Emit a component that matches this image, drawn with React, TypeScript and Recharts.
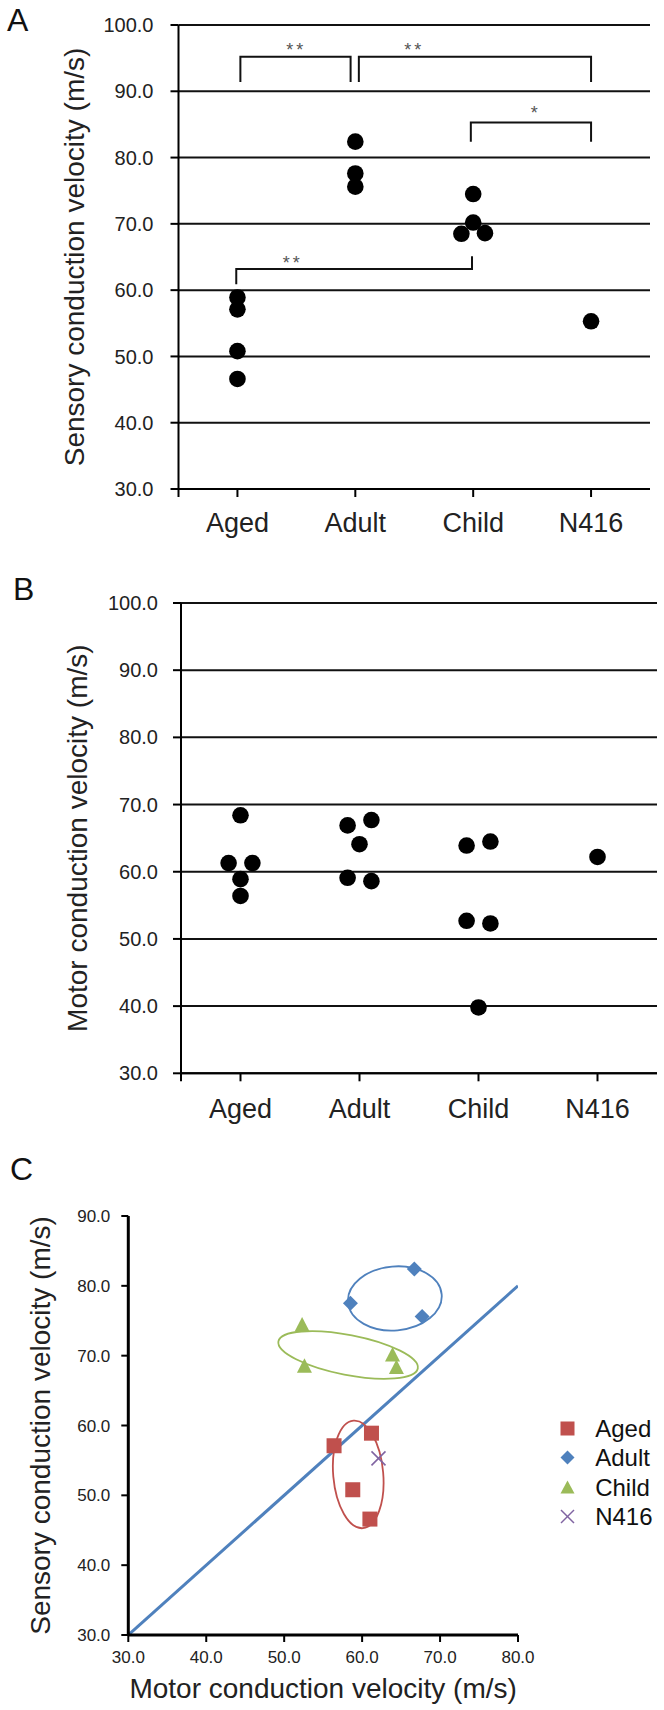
import { ComposedChart, Scatter, Line, XAxis, YAxis, CartesianGrid } from "recharts";

const FONT = '"Liberation Sans", Arial, Helvetica, sans-serif';

// groups on the x axis of panels A and B
const groups = ["Aged", "Adult", "Child", "N416"];
const groupTicks = [-0.5, 0, 1, 2, 3];
const velocityTicks = [30, 40, 50, 60, 70, 80, 90, 100];

// A - sensory conduction velocity (m/s)
const sensoryAged = [58.9, 57.1, 50.8, 46.6];
const sensoryAdult = [82.4, 77.6, 75.6];
const sensoryChild = [74.5, 70.2, 68.5, 68.6];
const sensoryN416 = [55.3];
const sensoryOffsets = [[0, 0, 0, 0], [0, 0, 0], [0, 0, -0.1, 0.1], [0]];

// A - significance brackets [x, y] and stars
const bracketAgedAdult = [[0.025, 91.4], [0.025, 95.2], [0.96, 95.2], [0.96, 91.4]];
const bracketAdultN416 = [[1.03, 91.4], [1.03, 95.2], [3.0, 95.2], [3.0, 91.4]];
const bracketChildN416 = [[1.98, 82.4], [1.98, 85.3], [3.0, 85.3], [3.0, 82.4]];
const bracketAgedChild = [[-0.01, 60.9], [-0.01, 63.2], [1.99, 63.2], [1.99, 65.1]];
const starText = ["**", "**", "*", "**"];
const starX = [0.5, 1.5, 2.53, 0.47];
const starY = [96.8, 96.8, 87.3, 64.7];

// B - motor conduction velocity (m/s)
const motorAged = [68.4, 61.3, 61.3, 58.9, 56.4];
const motorAdult = [66.9, 67.7, 64.1, 59.1, 58.6];
const motorChild = [63.9, 64.5, 52.7, 52.3, 39.8];
const motorN416 = [62.2];
const motorOffsets = [[0, -0.1, 0.1, 0, 0], [-0.1, 0.1, 0, -0.1, 0.1], [-0.1, 0.1, -0.1, 0.1, 0], [0]];

// C - motor (x) vs sensory (y)
const agedMotor = [56.4, 61.2, 58.8, 61.0];
const agedSensory = [57.1, 58.9, 50.8, 46.6];
const adultMotor = [66.7, 58.5, 67.7];
const adultSensory = [82.4, 77.5, 75.6];
const childMotor = [52.3, 52.6, 63.9, 64.4];
const childSensory = [74.4, 68.5, 70.1, 68.3];
const n416Motor = [62.1];
const n416Sensory = [55.3];
const identityX = [30, 80];
const identityY = [30, 80];
const motorTicks = [30, 40, 50, 60, 70, 80];
const sensoryTicks = [30, 40, 50, 60, 70, 80, 90];

// C - hand-drawn group rings (centre in data units)
const agedRing = [{ x: 59.5, y: 53.0 }];
const adultRing = [{ x: 64.2, y: 78.2 }];
const childRing = [{ x: 58.2, y: 70.1 }];

const colors = { Aged: "#C0504D", Adult: "#4F81BD", Child: "#9BBB59", N416: "#8064A2" };

type Pt = { x: number; y: number; t?: string };

const spread = (vals: number[][], offs: number[][]): Pt[] =>
  vals.flatMap((arr, g) => arr.map((v, i) => ({ x: g + offs[g][i], y: v })));
const pairs = (xs: number[], ys: number[]): Pt[] => xs.map((x, i) => ({ x, y: ys[i] }));
const toPts = (arr: number[][]): Pt[] => arr.map(([x, y]) => ({ x, y }));

const sensoryPoints = spread([sensoryAged, sensoryAdult, sensoryChild, sensoryN416], sensoryOffsets);
const motorPoints = spread([motorAged, motorAdult, motorChild, motorN416], motorOffsets);
const starPoints = starText.map((t, i) => ({ x: starX[i], y: starY[i], t }));

const catTick = (v: number) => (v < 0 ? "" : groups[v]);
const fmt1 = (v: number) => v.toFixed(1);

const Dot = (p: any) => <circle cx={p.cx} cy={p.cy} r={8.3} fill="#000" />;
const StarMark = (p: any) => (
  <text x={p.cx} y={p.cy + 10} textAnchor="middle" fontSize={18} letterSpacing={3} fill="#555" fontFamily={FONT}>
    {p.payload.t}
  </text>
);

const SquareMark = (p: any) => <rect x={p.cx - 7.5} y={p.cy - 7.5} width={15} height={15} fill={colors.Aged} />;
const DiamondMark = (p: any) => (
  <polygon points={`${p.cx},${p.cy - 7.5} ${p.cx + 7.5},${p.cy} ${p.cx},${p.cy + 7.5} ${p.cx - 7.5},${p.cy}`} fill={colors.Adult} />
);
const TriangleMark = (p: any) => (
  <polygon points={`${p.cx},${p.cy - 8} ${p.cx + 7.5},${p.cy + 6.5} ${p.cx - 7.5},${p.cy + 6.5}`} fill={colors.Child} />
);
const CrossMark = (p: any) => (
  <g stroke={colors.N416} strokeWidth={1.6}>
    <line x1={p.cx - 7} y1={p.cy - 7} x2={p.cx + 7} y2={p.cy + 7} />
    <line x1={p.cx - 7} y1={p.cy + 7} x2={p.cx + 7} y2={p.cy - 7} />
  </g>
);

const ring = (rx: number, ry: number, angle: number, color: string) => (p: any) => (
  <ellipse
    cx={p.cx}
    cy={p.cy}
    rx={rx}
    ry={ry}
    transform={`rotate(${angle} ${p.cx} ${p.cy})`}
    fill="none"
    stroke={color}
    strokeWidth={1.8}
  />
);

const axisStroke = { stroke: "#000", strokeWidth: 2 };

function StripChart(props: any) {
  const { points, top, height, margin, yWidth, yTickMargin, xTickMargin, xHeight, title, titleX, extra } = props;
  return (
    <div style={{ position: "absolute", left: 0, top }}>
      <ComposedChart width={664} height={height} margin={margin}>
        <CartesianGrid horizontal vertical={false} stroke="#111" strokeWidth={2} />
        <XAxis
          type="number"
          dataKey="x"
          domain={[-0.5, 3.5]}
          ticks={groupTicks}
          interval={0}
          allowDataOverflow
          tickFormatter={catTick}
          height={xHeight}
          tickSize={8}
          tickMargin={xTickMargin}
          axisLine={axisStroke}
          tickLine={axisStroke}
          tick={{ fill: "#222", fontSize: 27, fontFamily: FONT }}
        />
        <YAxis
          type="number"
          dataKey="y"
          domain={[30, 100]}
          ticks={velocityTicks}
          interval={0}
          allowDataOverflow
          tickFormatter={fmt1}
          width={yWidth}
          tickSize={8}
          tickMargin={yTickMargin}
          axisLine={axisStroke}
          tickLine={axisStroke}
          tick={{ fill: "#222", fontSize: 20, fontFamily: FONT }}
          label={{
            value: title,
            angle: -90,
            position: "insideLeft",
            offset: titleX,
            fontSize: 28,
            fontFamily: FONT,
            fill: "#222",
            style: { textAnchor: "middle" },
          }}
        />
        {extra}
        <Scatter data={points} shape={Dot} isAnimationActive={false} />
      </ComposedChart>
    </div>
  );
}

const bracketLine = (data: number[][], key: string) => (
  <Line
    key={key}
    data={toPts(data)}
    dataKey="y"
    type="linear"
    stroke="#111"
    strokeWidth={2}
    dot={false}
    legendType="none"
    isAnimationActive={false}
  />
);

function Letter({ text, left, top }: { text: string; left: number; top: number }) {
  return (
    <div style={{ position: "absolute", left, top, fontFamily: FONT, fontSize: 32, lineHeight: 1, color: "#111" }}>
      {text}
    </div>
  );
}

function LegendIcon({ name }: { name: string }) {
  const c = 8.5;
  if (name === "Aged") return <rect x={c - 7} y={c - 7} width={14} height={14} fill={colors.Aged} />;
  if (name === "Adult")
    return <polygon points={`${c},${c - 7} ${c + 7},${c} ${c},${c + 7} ${c - 7},${c}`} fill={colors.Adult} />;
  if (name === "Child")
    return <polygon points={`${c},${c - 7} ${c + 7},${c + 6} ${c - 7},${c + 6}`} fill={colors.Child} />;
  return (
    <g stroke={colors.N416} strokeWidth={1.5}>
      <line x1={c - 6.5} y1={c - 6.5} x2={c + 6.5} y2={c + 6.5} />
      <line x1={c - 6.5} y1={c + 6.5} x2={c + 6.5} y2={c - 6.5} />
    </g>
  );
}

export default function App() {
  return (
    <div style={{ position: "absolute", left: 0, top: 0, width: 664, height: 1710, background: "#fff" }}>
      {/* A */}
      <StripChart
        points={sensoryPoints}
        top={0}
        height={548}
        margin={{ top: 25, right: 14, bottom: 0, left: 0 }}
        yWidth={178.5}
        yTickMargin={17}
        xTickMargin={16}
        xHeight={59}
        title="Sensory conduction velocity (m/s)"
        titleX={74}
        extra={[
          bracketLine(bracketAgedAdult, "b1"),
          bracketLine(bracketAdultN416, "b2"),
          bracketLine(bracketChildN416, "b3"),
          bracketLine(bracketAgedChild, "b4"),
          <Scatter key="stars" data={starPoints} shape={StarMark} legendType="none" isAnimationActive={false} />,
        ]}
      />

      {/* B */}
      <StripChart
        points={motorPoints}
        top={548}
        height={600}
        margin={{ top: 55, right: 7, bottom: 0, left: 0 }}
        yWidth={181}
        yTickMargin={15}
        xTickMargin={18}
        xHeight={74.7}
        title="Motor conduction velocity (m/s)"
        titleX={77}
        extra={null}
      />

      {/* C */}
      <div style={{ position: "absolute", left: 0, top: 1120 }}>
        <ComposedChart width={664} height={590} margin={{ top: 96, right: 146, bottom: 0, left: 0 }}>
          <XAxis
            type="number"
            dataKey="x"
            domain={[30, 80]}
            ticks={motorTicks}
            interval={0}
            allowDataOverflow
            tickFormatter={fmt1}
            height={75}
            tickSize={7}
            tickMargin={9}
            axisLine={{ stroke: "#000", strokeWidth: 3 }}
            tickLine={axisStroke}
            tick={{ fill: "#222", fontSize: 17, fontFamily: FONT }}
            label={{
              value: "Motor conduction velocity (m/s)",
              position: "insideBottom",
              offset: 12,
              fontSize: 28,
              fontFamily: FONT,
              fill: "#222",
            }}
          />
          <YAxis
            type="number"
            dataKey="y"
            domain={[30, 90]}
            ticks={sensoryTicks}
            interval={0}
            allowDataOverflow
            tickFormatter={fmt1}
            width={128.3}
            tickSize={7}
            tickMargin={11}
            axisLine={{ stroke: "#000", strokeWidth: 3 }}
            tickLine={axisStroke}
            tick={{ fill: "#222", fontSize: 17, fontFamily: FONT }}
            label={{
              value: "Sensory conduction velocity (m/s)",
              angle: -90,
              position: "insideLeft",
              offset: 40,
              fontSize: 28,
              fontFamily: FONT,
              fill: "#222",
              style: { textAnchor: "middle" },
            }}
          />
          <Line
            data={pairs(identityX, identityY)}
            dataKey="y"
            type="linear"
            stroke={colors.Adult}
            strokeWidth={3}
            dot={false}
            legendType="none"
            isAnimationActive={false}
          />
          <Scatter data={adultRing} shape={ring(47, 32, -5, colors.Adult)} legendType="none" isAnimationActive={false} />
          <Scatter data={childRing} shape={ring(71, 20, 11, colors.Child)} legendType="none" isAnimationActive={false} />
          <Scatter data={agedRing} shape={ring(25, 54, -5, colors.Aged)} legendType="none" isAnimationActive={false} />
          <Scatter name="Aged" data={pairs(agedMotor, agedSensory)} shape={SquareMark} isAnimationActive={false} />
          <Scatter name="Adult" data={pairs(adultMotor, adultSensory)} shape={DiamondMark} isAnimationActive={false} />
          <Scatter name="Child" data={pairs(childMotor, childSensory)} shape={TriangleMark} isAnimationActive={false} />
          <Scatter name="N416" data={pairs(n416Motor, n416Sensory)} shape={CrossMark} isAnimationActive={false} />
        </ComposedChart>
      </div>

      {/* C legend */}
      <div style={{ position: "absolute", left: 559.2, top: 1414, fontFamily: FONT, fontSize: 24, color: "#111" }}>
        {groups.map((g) => (
          <div key={g} style={{ display: "flex", alignItems: "center", height: 29.3 }}>
            <svg width={17} height={17}>
              <LegendIcon name={g} />
            </svg>
            <span style={{ marginLeft: 19, lineHeight: "29px" }}>{g}</span>
          </div>
        ))}
      </div>

      <Letter text="A" left={7} top={4} />
      <Letter text="B" left={13} top={573} />
      <Letter text="C" left={10} top={1153} />
    </div>
  );
}
